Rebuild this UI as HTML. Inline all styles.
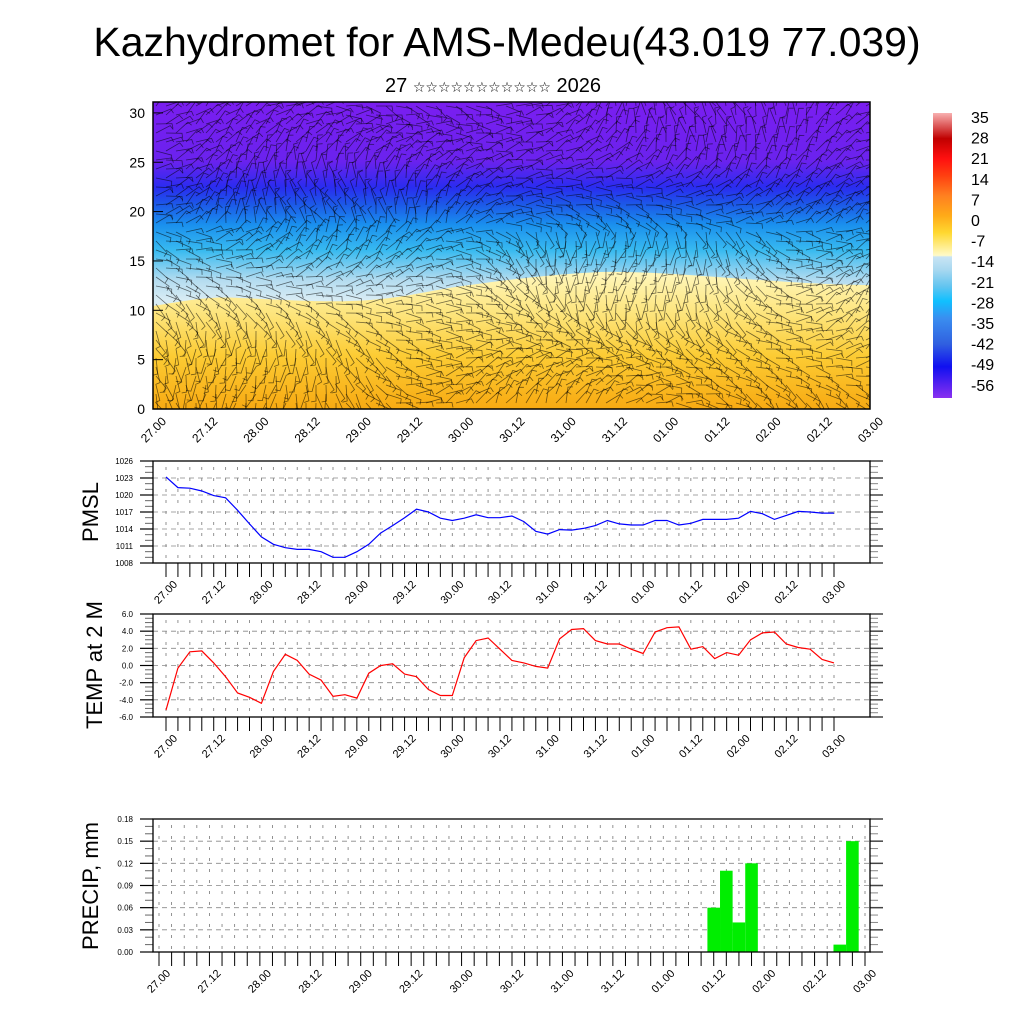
<!DOCTYPE html>
<html><head><meta charset="utf-8">
<style>
html,body{margin:0;padding:0;background:#fff;}
svg text{font-family:"Liberation Sans","DejaVu Sans",sans-serif;}
</style></head>
<body>
<svg id="chart" width="1024" height="1024" viewBox="0 0 1024 1024" xmlns="http://www.w3.org/2000/svg">
<defs>
<linearGradient id="gCold" gradientUnits="userSpaceOnUse" x1="0" y1="102" x2="0" y2="300">
<stop offset="0" stop-color="#7a1ef0"/>
<stop offset="0.3" stop-color="#6a22ee"/>
<stop offset="0.43" stop-color="#2a2cf0"/>
<stop offset="0.52" stop-color="#1c5ae8"/>
<stop offset="0.62" stop-color="#1a90ee"/>
<stop offset="0.75" stop-color="#38baf0"/>
<stop offset="0.9" stop-color="#b4dcf0"/>
<stop offset="1" stop-color="#d8ecf4"/>
</linearGradient>
<linearGradient id="gWarm" gradientUnits="userSpaceOnUse" x1="0" y1="275" x2="0" y2="409">
<stop offset="0" stop-color="#fff6b8"/>
<stop offset="0.3" stop-color="#fde47a"/>
<stop offset="0.6" stop-color="#fccc34"/>
<stop offset="1" stop-color="#f8aa12"/>
</linearGradient>
<linearGradient id="gBar" gradientUnits="userSpaceOnUse" x1="0" y1="113" x2="0" y2="398">
<stop offset="0" stop-color="#f8b0b0"/>
<stop offset="0.09" stop-color="#c00000"/>
<stop offset="0.16" stop-color="#ff1010"/>
<stop offset="0.22" stop-color="#ff4010"/>
<stop offset="0.29" stop-color="#ff8020"/>
<stop offset="0.36" stop-color="#ffaa18"/>
<stop offset="0.42" stop-color="#ffd830"/>
<stop offset="0.5" stop-color="#fffac8"/>
<stop offset="0.505" stop-color="#c8e4f4"/>
<stop offset="0.55" stop-color="#a8d8f0"/>
<stop offset="0.61" stop-color="#60c4f0"/>
<stop offset="0.66" stop-color="#10c0ff"/>
<stop offset="0.72" stop-color="#3a8ef0"/>
<stop offset="0.81" stop-color="#3060e0"/>
<stop offset="0.89" stop-color="#1010f0"/>
<stop offset="1" stop-color="#8a30f0"/>
</linearGradient>
<clipPath id="topClip"><rect x="153" y="102" width="717" height="307"/></clipPath>
</defs>

<text x="507" y="56" font-size="41" text-anchor="middle">Kazhydromet for AMS-Medeu(43.019 77.039)</text>
<text x="493" y="92" font-size="20" text-anchor="middle">27 <tspan font-size="14">☆☆☆☆☆☆☆☆☆☆☆</tspan> 2026</text>

<g id="topPanel">
<rect x="153" y="102" width="717" height="307" fill="url(#gCold)"/>
<path d="M153,306 C190,300 210,296 240,298 C290,300 330,303 370,300 C410,297 430,290 470,285 C520,278 560,274 600,272 C650,271 700,276 760,280 C800,283 840,285 870,285 L870,409 L153,409 Z" fill="url(#gWarm)"/>
<g id="barbs" clip-path="url(#topClip)" stroke="#000" stroke-opacity="0.55" stroke-width="0.8" fill="none"></g>
<rect x="153" y="102" width="717" height="307" fill="none" stroke="#000" stroke-width="1.5"/>
<g id="topAxes" font-size="14"></g>
</g>

<g id="colorbar">
<rect x="933" y="113" width="19" height="285" fill="url(#gBar)"/>
<g id="cbLabels" font-size="16"></g>
</g>

<g id="pmslPanel"></g>
<g id="tempPanel"></g>
<g id="precipPanel"></g>

<text transform="translate(98,512) rotate(-90)" font-size="22" text-anchor="middle">PMSL</text>
<text transform="translate(102,665) rotate(-90)" font-size="22" text-anchor="middle">TEMP at 2 M</text>
<text transform="translate(98,886) rotate(-90)" font-size="22" text-anchor="middle">PRECIP, mm</text>
</svg>
<script>
const dateLabels = ["27.00","27.12","28.00","28.12","29.00","29.12","30.00","30.12","31.00","31.12","01.00","01.12","02.00","02.12","03.00"];
const pmslValues = [1023.2,1021.3,1021.2,1020.7,1019.9,1019.5,1017.3,1014.9,1012.6,1011.3,1010.7,1010.4,1010.4,1010.0,1009.0,1009.0,1010.0,1011.3,1013.3,1014.6,1016.0,1017.5,1017.0,1015.9,1015.5,1015.9,1016.5,1016.0,1016.0,1016.3,1015.3,1013.6,1013.1,1013.9,1013.8,1014.1,1014.6,1015.5,1014.9,1014.7,1014.7,1015.5,1015.5,1014.7,1015.0,1015.7,1015.7,1015.7,1015.9,1017.1,1016.7,1015.7,1016.4,1017.1,1017.0,1016.8,1016.8];
const pmslTicks = ["1008","1011","1014","1017","1020","1023","1026"];
const tempValues = [-5.2,-0.3,1.6,1.7,0.3,-1.3,-3.2,-3.7,-4.4,-0.7,1.3,0.6,-1.0,-1.7,-3.6,-3.4,-3.8,-0.9,0.0,0.2,-1.0,-1.3,-2.8,-3.5,-3.5,0.9,2.9,3.2,1.9,0.6,0.3,-0.1,-0.3,3.1,4.2,4.3,2.9,2.5,2.5,1.9,1.4,3.9,4.4,4.5,1.9,2.2,0.8,1.5,1.2,3.0,3.8,3.9,2.5,2.1,1.9,0.7,0.3];
const tempTicks = ["-6.0","-4.0","-2.0","0.0","2.0","4.0","6.0"];
const precipIndex = [44,45,46,47,54,55];
const precipValues = [0.06,0.11,0.04,0.12,0.01,0.15];
const precipTicks = ["0.00","0.03","0.06","0.09","0.12","0.15","0.18"];
const topTicks = ["0","5","10","15","20","25","30"];
const cbTicks = ["35","28","21","14","7","0","-7","-14","-21","-28","-35","-42","-49","-56"];

const NS = "http://www.w3.org/2000/svg";
function mk(tag, attrs, parent){const e=document.createElementNS(NS,tag);for(const k in attrs)e.setAttribute(k,attrs[k]);parent.appendChild(e);return e;}

const topAx = document.getElementById('topAxes');
const topY = v => 409 - v*9.87;
topTicks.forEach(t=>{
  const y = topY(+t);
  const tx = mk('text',{x:145,y:y+5,'text-anchor':'end'},topAx);
  tx.textContent = t;
  
  
  mk('line',{x1:153,x2:163,y1:y,y2:y,stroke:'#000'},topAx);
});
dateLabels.forEach((d,i)=>{
  const x = 153 + i*717/14;
  const tx = mk('text',{transform:`translate(${x+14},${422}) rotate(-45)`,'text-anchor':'end','font-size':12},topAx);
  tx.textContent = d;
  
  
});
const barbs = document.getElementById('barbs');
for(let gy=106; gy<409; gy+=9){
  for(let gx=156; gx<870; gx+=10){
    const u = (gx-153)/717, v=(409-gy)/307;
    let a = Math.sin(u*9+v*4)*0.9 + Math.cos(v*7 - u*5)*0.7 + (v>0.6? -0.5:0.3) + Math.sin(gx*0.37+gy*0.21)*0.35;
    const L = 16;
    const x2 = gx + L*Math.cos(a), y2 = gy + L*Math.sin(a);
    const bx = x2 + 5*Math.cos(a+1.4), by = y2 + 5*Math.sin(a+1.4);
    mk('path',{d:`M${gx.toFixed(1)},${gy.toFixed(1)}L${x2.toFixed(1)},${y2.toFixed(1)}L${bx.toFixed(1)},${by.toFixed(1)}`},barbs);
  }
}

const cbl = document.getElementById('cbLabels');
cbTicks.forEach((t,i)=>{
  const tx = mk('text',{x:971,y:123+i*20.6},cbl);
  tx.textContent = t;
  
  
});

function panel(gid, name, top, bottom, x0, dx, yTicks, ymin, ymax, minorPer){
  const g = document.getElementById(gid);
  
  
  const L=153,R=870;
  const ys = v => bottom - (v-ymin)/(ymax-ymin)*(bottom-top);
  for(let i=0;i<=56;i++){
    const x = x0 + i*dx;
    if(x>L+2 && x<R-2) mk('line',{x1:x,x2:x,y1:top+6,y2:bottom,stroke:'#777','stroke-width':0.8,'stroke-dasharray':'3,8'},g);
    mk('line',{x1:x,x2:x,y1:bottom,y2:bottom+14,stroke:'#000','stroke-width':1},g);
  }
  yTicks.forEach((t,i)=>{
    const y = ys(+t);
    if(i>0 && i<yTicks.length-1) mk('line',{x1:L,x2:R,y1:y,y2:y,stroke:'#888','stroke-width':0.8,'stroke-dasharray':'5,4'},g);
    mk('line',{x1:L-13,x2:L,y1:y,y2:y,stroke:'#000','stroke-width':1.2},g);
    mk('line',{x1:R,x2:R+13,y1:y,y2:y,stroke:'#444','stroke-width':1.5},g);
    const tx = mk('text',{x:L-20,y:y+3,'text-anchor':'end','font-size':8},g);
    tx.textContent = t;
    
    
    if(i<yTicks.length-1){
      const y2 = ys(+yTicks[i+1]);
      for(let m=1;m<minorPer;m++){
        const ym = y + (y2-y)*m/minorPer;
        mk('line',{x1:L-8,x2:L,y1:ym,y2:ym,stroke:'#666'},g);
        mk('line',{x1:R,x2:R+8,y1:ym,y2:ym,stroke:'#888'},g);
      }
    }
  });
  dateLabels.forEach((d,i)=>{
    const x = x0 + i*4*dx;
    const tx = mk('text',{transform:`translate(${x+12},${bottom+22}) rotate(-45)`,'text-anchor':'end','font-size':11},g);
    tx.textContent = d;
    
    
  });
  return {g, ys, frame:()=>{const f=mk('rect',{x:L,y:top,width:R-L,height:bottom-top,fill:'none',stroke:'#000','stroke-width':1.3},g);
    
    }};
}

const p1 = panel('pmslPanel','pmsl-panel',461,563,166,668/56,pmslTicks,1008,1026,3);
const pmslLine = mk('polyline',{points:pmslValues.map((v,i)=>`${(166+i*668/56).toFixed(1)},${p1.ys(v).toFixed(1)}`).join(' '),fill:'none',stroke:'#0000ff','stroke-width':1.2},p1.g);


p1.frame();

const p2 = panel('tempPanel','temp-panel',614,717,166,668/56,tempTicks,-6,6,4);
const tempLine = mk('polyline',{points:tempValues.map((v,i)=>`${(166+i*668/56).toFixed(1)},${p2.ys(v).toFixed(1)}`).join(' '),fill:'none',stroke:'#ff0000','stroke-width':1.2},p2.g);


p2.frame();

const pdx = 706/56;
const p3 = panel('precipPanel','precip-panel',819,952,159,pdx,precipTicks,0,0.18,3);
precipIndex.forEach((idx,k)=>{
  const cx = 159 + idx*pdx;
  const y = p3.ys(precipValues[k]);
  const b = mk('rect',{x:cx-pdx/2,y:y,width:pdx,height:952-y,fill:'#00ee00'},p3.g);
  
  
});
p3.frame();
</script>
</body></html>
